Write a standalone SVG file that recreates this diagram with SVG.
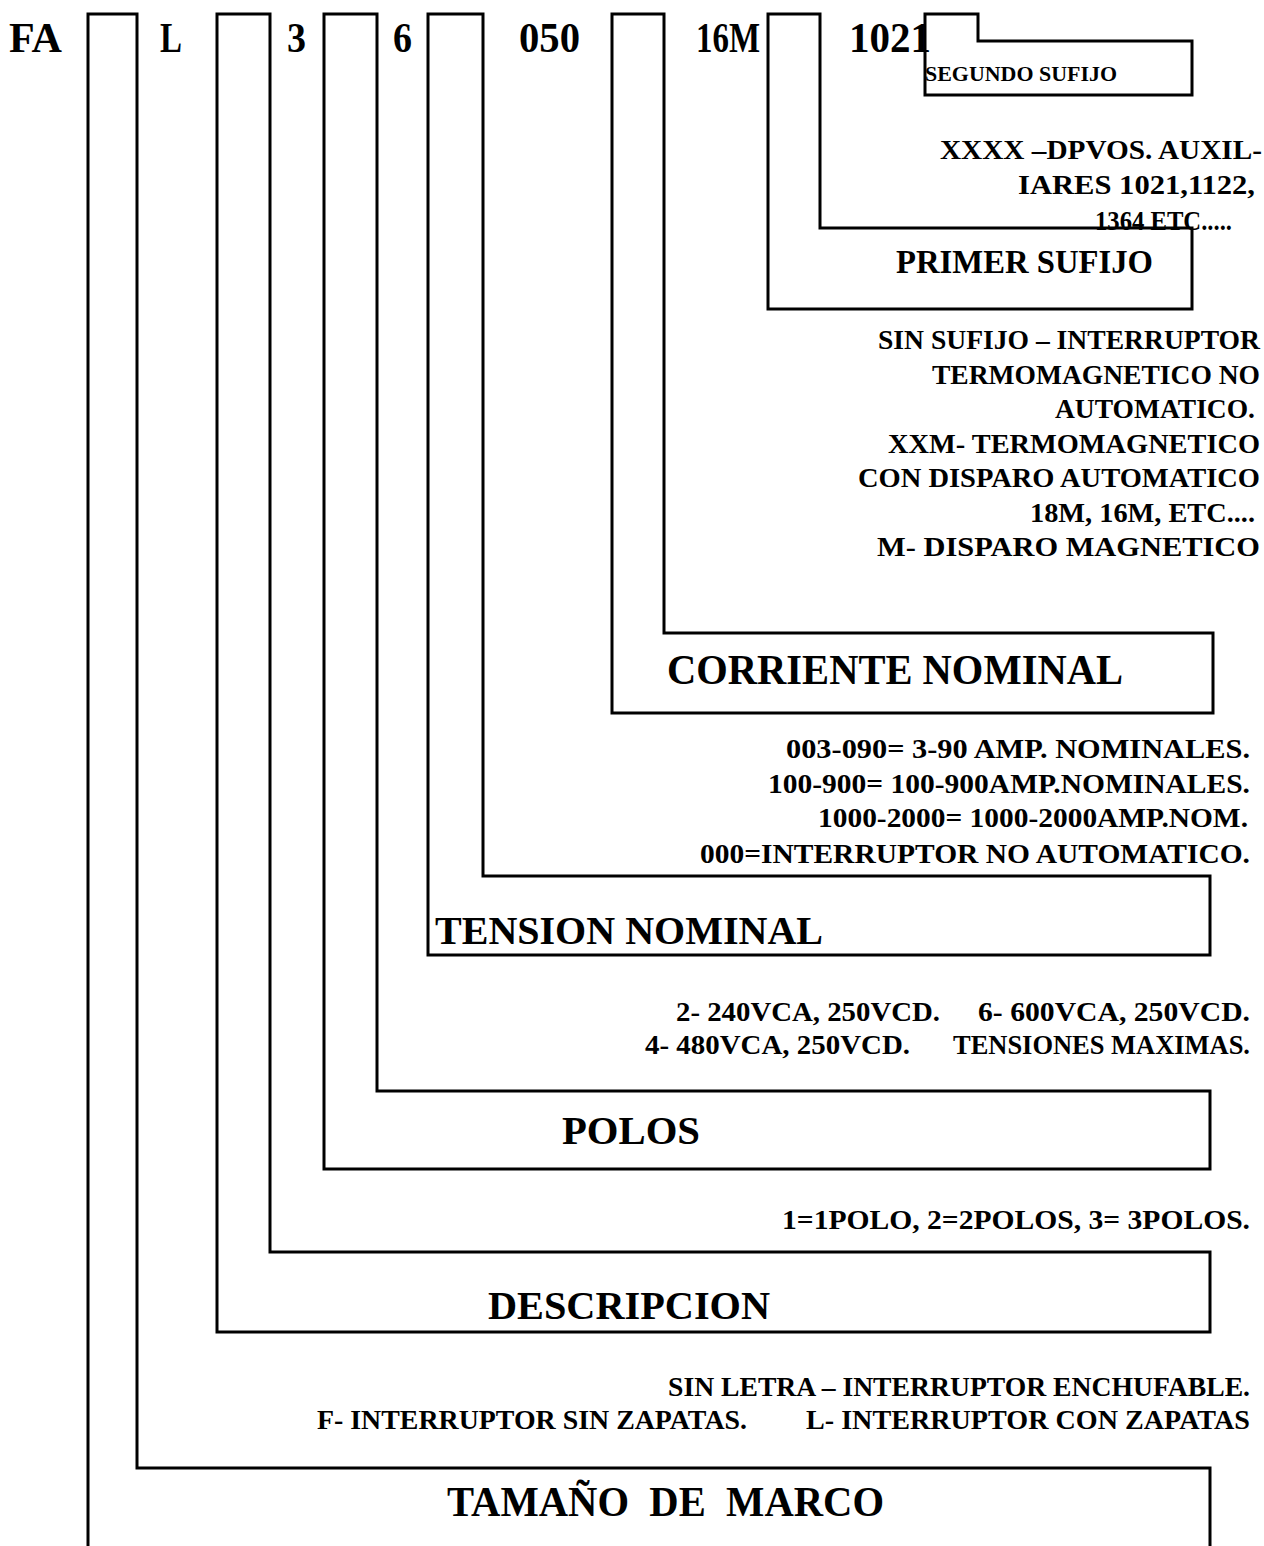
<svg xmlns="http://www.w3.org/2000/svg" width="1264" height="1546" viewBox="0 0 1264 1546">
<style>
.box{fill:none;stroke:#000;stroke-width:3;stroke-linejoin:miter}
text{font-family:"Liberation Serif","Times New Roman",serif;font-weight:bold;fill:#000}
.code{font-size:42px}
.lbl{font-size:41px}
.big{font-size:43px}
.desc{font-size:28px}
.desc2{font-size:27px}
.small{font-size:20px}
</style>
<rect width="1264" height="1546" fill="#fff"/>
<g id="codes">
<text class="code" x="9" y="52" textLength="53" lengthAdjust="spacingAndGlyphs">FA</text>
<text class="code" x="160" y="52" textLength="22" lengthAdjust="spacingAndGlyphs">L</text>
<text class="code" x="287" y="52" textLength="19" lengthAdjust="spacingAndGlyphs">3</text>
<text class="code" x="393" y="52" textLength="19" lengthAdjust="spacingAndGlyphs">6</text>
<text class="code" x="519" y="52" textLength="61" lengthAdjust="spacingAndGlyphs">050</text>
<text class="code" x="696" y="52" textLength="64" lengthAdjust="spacingAndGlyphs">16M</text>
<text class="code" x="849" y="52" textLength="82" lengthAdjust="spacingAndGlyphs">1021</text>
</g>
<g id="connectors">
<polyline class="box" points="88,1546 88,14 137,14 137,1468 1210,1468 1210,1546"/>
<polygon class="box" points="217,14 270,14 270,1252 1210,1252 1210,1332 217,1332"/>
<polygon class="box" points="324,14 377,14 377,1091 1210,1091 1210,1169 324,1169"/>
<polygon class="box" points="428,14 483,14 483,876 1210,876 1210,955 428,955"/>
<polygon class="box" points="612,14 664,14 664,633 1213,633 1213,713 612,713"/>
<polygon class="box" points="768,14 820,14 820,228 1192,228 1192,309 768,309"/>
<polygon class="box" points="925,14 978,14 978,41 1192,41 1192,95 925,95"/>
</g>
<g id="segundo-sufijo">
<text class="small" x="925" y="81" textLength="192" lengthAdjust="spacingAndGlyphs">SEGUNDO SUFIJO</text>
<text class="desc" x="940" y="159" textLength="322" lengthAdjust="spacingAndGlyphs">XXXX –DPVOS. AUXIL-</text>
<text class="desc" x="1018" y="194" textLength="237" lengthAdjust="spacingAndGlyphs">IARES 1021,1122,</text>
<text class="desc" x="1095" y="230" textLength="137" lengthAdjust="spacingAndGlyphs">1364 ETC.....</text>
</g>
<g id="primer-sufijo">
<text x="896" y="273" style="font-size:33px" textLength="257" lengthAdjust="spacingAndGlyphs">PRIMER SUFIJO</text>
<text class="desc" x="878" y="349" textLength="382" lengthAdjust="spacingAndGlyphs">SIN SUFIJO – INTERRUPTOR</text>
<text class="desc" x="932" y="384" textLength="328" lengthAdjust="spacingAndGlyphs">TERMOMAGNETICO NO</text>
<text class="desc" x="1055" y="418" textLength="200" lengthAdjust="spacingAndGlyphs">AUTOMATICO.</text>
<text class="desc" x="888" y="453" textLength="372" lengthAdjust="spacingAndGlyphs">XXM- TERMOMAGNETICO</text>
<text class="desc" x="858" y="487" textLength="402" lengthAdjust="spacingAndGlyphs">CON DISPARO AUTOMATICO</text>
<text class="desc" x="1030" y="522" textLength="225" lengthAdjust="spacingAndGlyphs">18M, 16M, ETC....</text>
<text class="desc" x="877" y="556" textLength="383" lengthAdjust="spacingAndGlyphs">M- DISPARO MAGNETICO</text>
</g>
<g id="corriente-nominal">
<text class="big" x="667" y="684" textLength="456" lengthAdjust="spacingAndGlyphs">CORRIENTE NOMINAL</text>
<text class="desc" x="786" y="758" textLength="464" lengthAdjust="spacingAndGlyphs">003-090= 3-90 AMP. NOMINALES.</text>
<text class="desc" x="768" y="793" textLength="482" lengthAdjust="spacingAndGlyphs">100-900= 100-900AMP.NOMINALES.</text>
<text class="desc" x="818" y="827" textLength="430" lengthAdjust="spacingAndGlyphs">1000-2000= 1000-2000AMP.NOM.</text>
<text class="desc" x="700" y="863" textLength="550" lengthAdjust="spacingAndGlyphs">000=INTERRUPTOR NO AUTOMATICO.</text>
</g>
<g id="tension-nominal">
<text class="lbl" x="435" y="944" textLength="388" lengthAdjust="spacingAndGlyphs">TENSION NOMINAL</text>
<text class="desc2" x="676" y="1021" textLength="264" lengthAdjust="spacingAndGlyphs">2- 240VCA, 250VCD.</text>
<text class="desc2" x="978" y="1021" textLength="272" lengthAdjust="spacingAndGlyphs">6- 600VCA, 250VCD.</text>
<text class="desc2" x="645" y="1054" textLength="265" lengthAdjust="spacingAndGlyphs">4- 480VCA, 250VCD.</text>
<text class="desc2" x="953" y="1054" textLength="297" lengthAdjust="spacingAndGlyphs">TENSIONES MAXIMAS.</text>
</g>
<g id="polos">
<text class="lbl" x="562" y="1144" textLength="138" lengthAdjust="spacingAndGlyphs">POLOS</text>
<text class="desc2" x="782" y="1229" textLength="468" lengthAdjust="spacingAndGlyphs">1=1POLO, 2=2POLOS, 3= 3POLOS.</text>
</g>
<g id="descripcion">
<text class="lbl" x="488" y="1319" textLength="282" lengthAdjust="spacingAndGlyphs">DESCRIPCION</text>
<text class="desc" x="668" y="1396" textLength="582" lengthAdjust="spacingAndGlyphs">SIN LETRA – INTERRUPTOR ENCHUFABLE.</text>
<text class="desc" x="317" y="1429" textLength="430" lengthAdjust="spacingAndGlyphs">F- INTERRUPTOR SIN ZAPATAS.</text>
<text class="desc" x="806" y="1429" textLength="444" lengthAdjust="spacingAndGlyphs">L- INTERRUPTOR CON ZAPATAS</text>
</g>
<g id="tamano-de-marco">
<text class="big" x="447" y="1516" xml:space="preserve" style="white-space:pre" textLength="437" lengthAdjust="spacingAndGlyphs">TAMAÑO  DE  MARCO</text>
</g>
</svg>
